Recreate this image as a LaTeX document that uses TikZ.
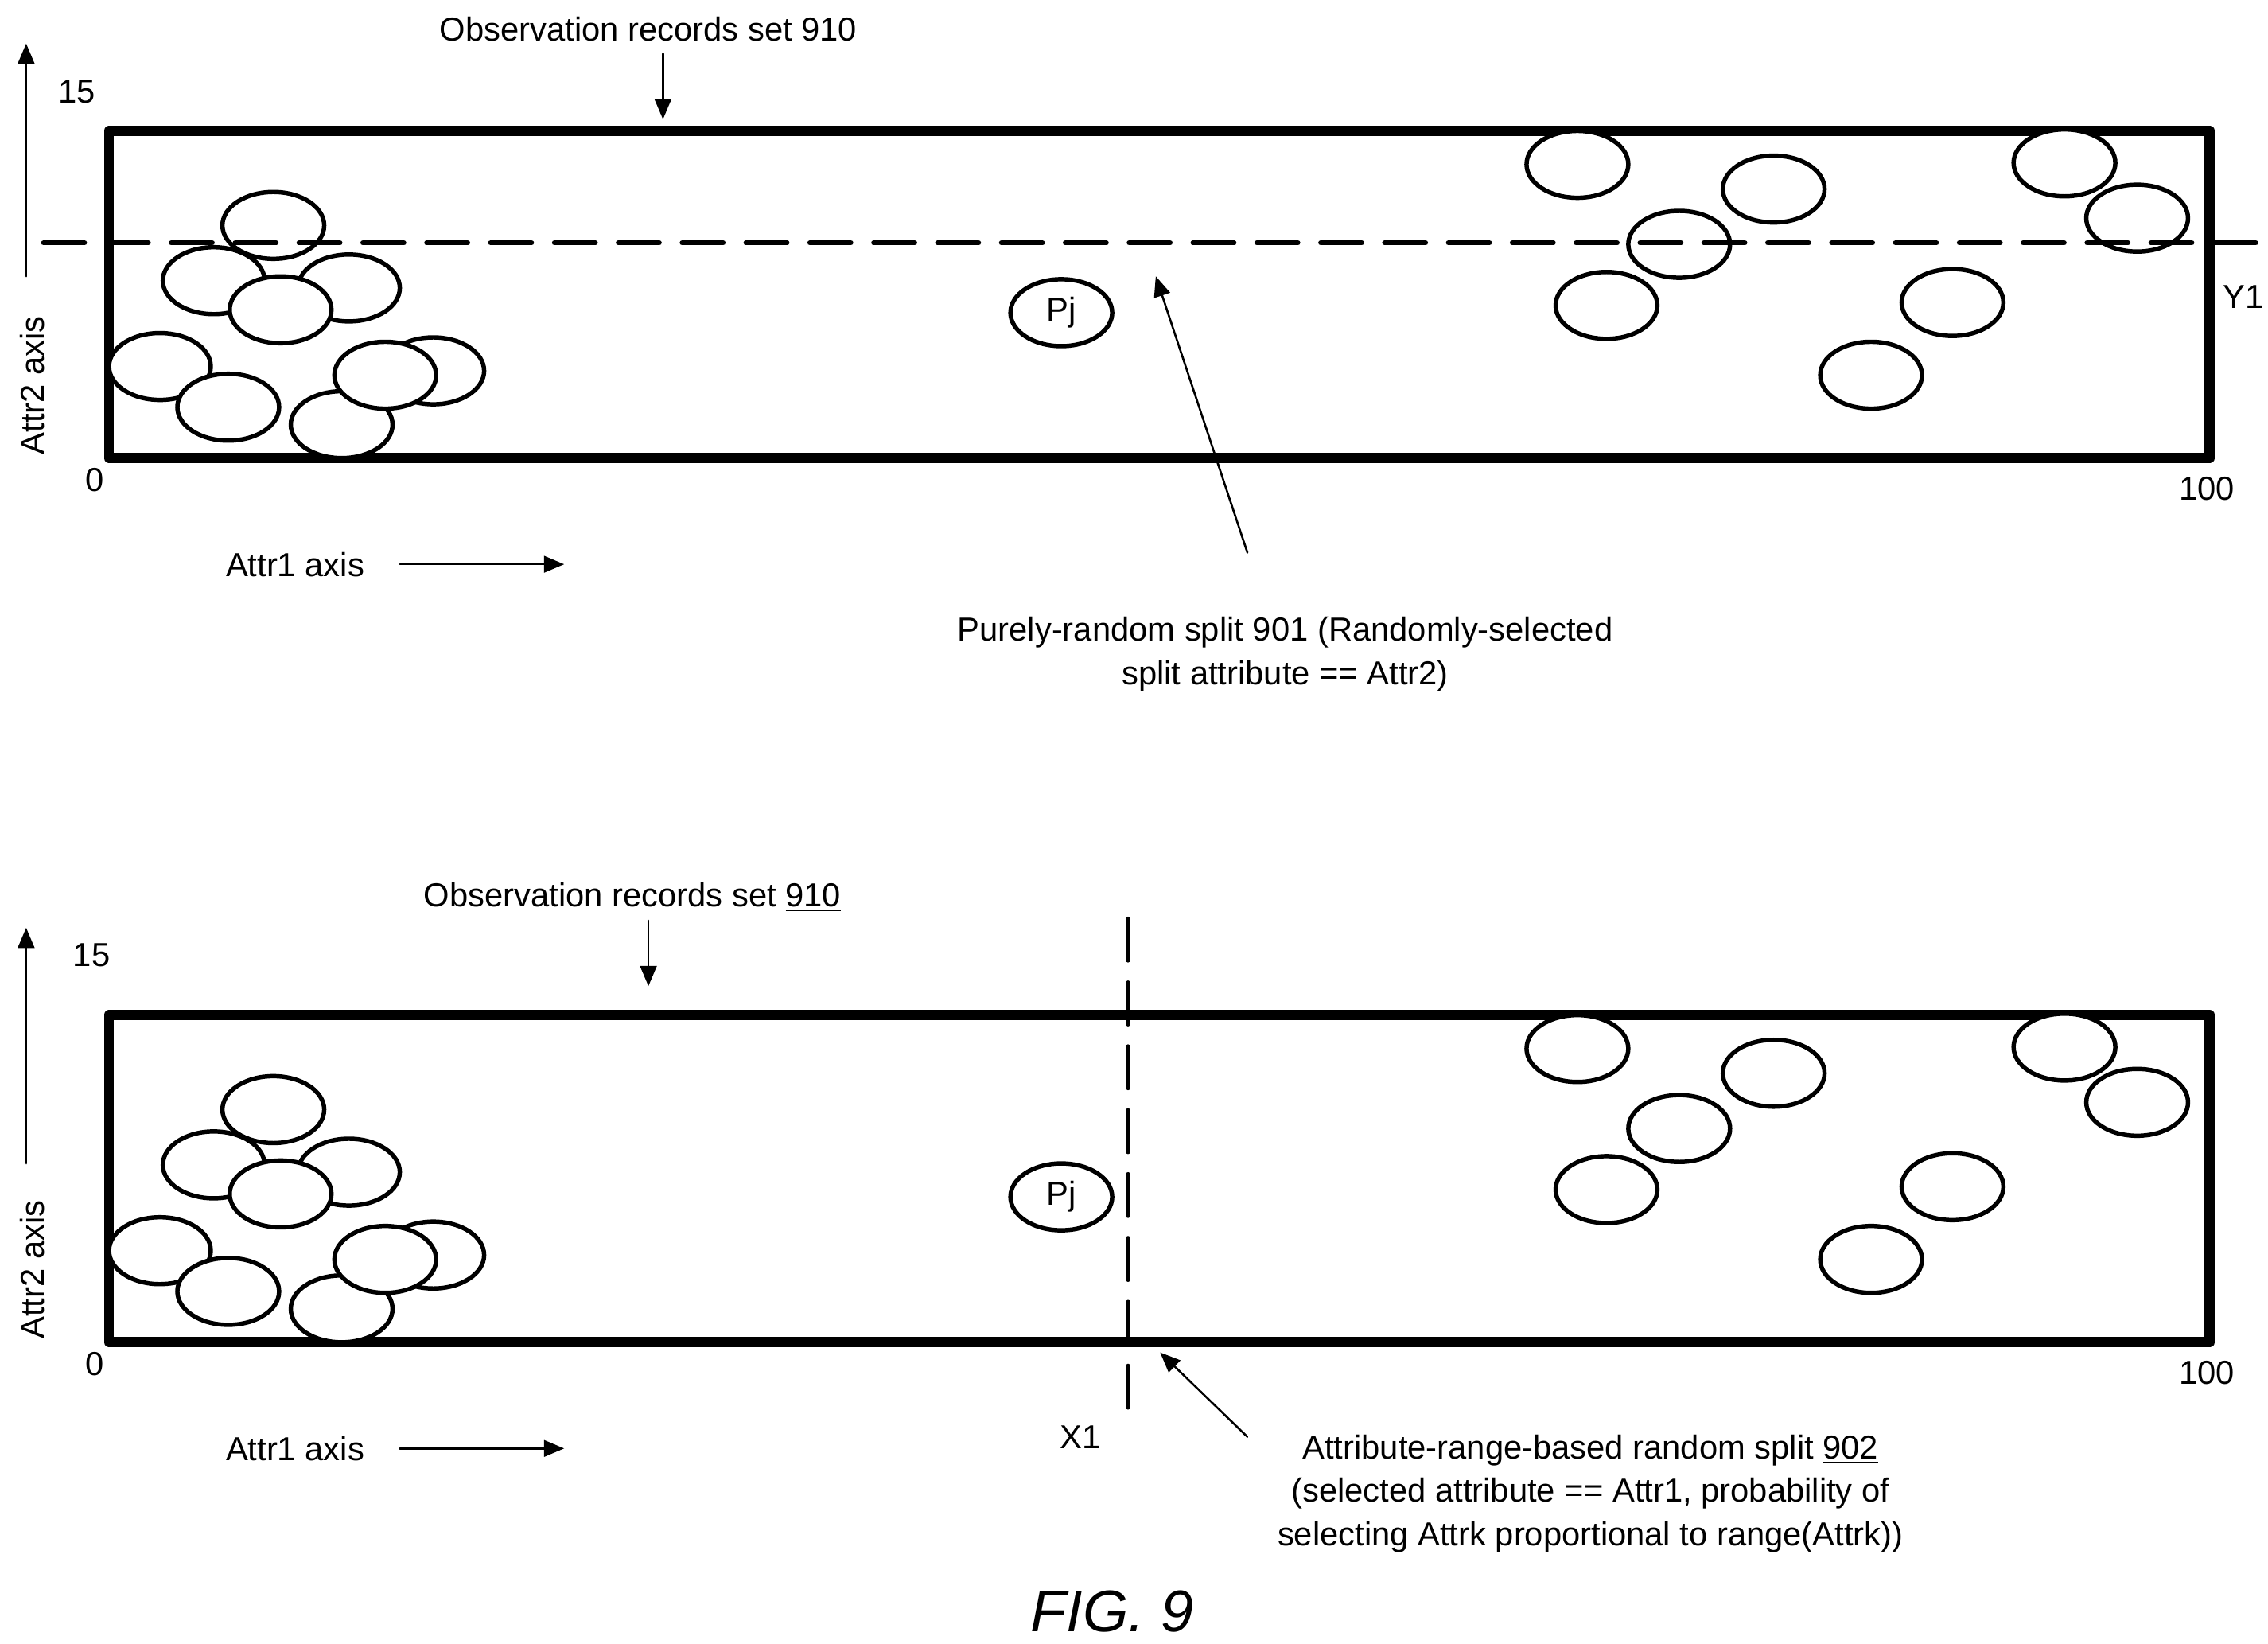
\documentclass[tikz,border=0pt]{standalone}
\usepackage{fontspec}
\setmainfont{Liberation Sans}
\usetikzlibrary{arrows,shapes.geometric}
\begin{document}
\begin{tikzpicture}[line cap=round,line join=round,>=triangle 45,x=0.02cm,y=-0.02cm,
  txt/.style={font=\fontsize{13}{15}\selectfont, inner sep=0pt},
  rec/.style={draw, line width=1.7pt, fill=white, ellipse, minimum width=70*0.02cm, minimum height=46*0.02cm, inner sep=0pt},
  box/.style={line width=4pt},
  split/.style={line width=2pt, dash pattern=on 16pt off 9pt},
  lead/.style={line width=0.8pt}]
\useasboundingbox (0,0) rectangle (1560,1130);
% two panels, the second shifted down
\foreach \dy/\s in {0/a,608/b} {
\begin{scope}[yshift=-\dy*0.02cm]
\draw[box] (75,90) rectangle (1520,315);
\foreach \cx/\cy in {110/252,157/280,235/292,298/255,265/258,147/193,240/198,188/155,193/213,
  1085/113,1220/130,1420/112,1155/168,1470/150,1105/210,1343/208,1287/258}
  \node[rec] at (\cx,\cy) {};
\node[rec, txt] (pj\s) at (730,215) {Pj};
\node[txt] at (65,330) {0};
\node[txt] at (1518,336) {100};
\node[txt, rotate=90] at (22,265) {Attr2 axis};
\node[txt] (a1\s) at (203,388) {Attr1 axis};
\coordinate (a1e\s) at (388,388);
\draw[->, lead] (275,388) -- (a1e\s);
\end{scope}
}
% top panel
\node[txt] at (53,63) {15};
\draw[->, lead] (18,190) -- (18,30);
\node[txt] (t1) at (446,22) {Observation records set \underline{910}};
\coordinate (t1e) at (456,82);
\draw[->, lead] (456,37) -- (t1e);
\draw[split] (30,167) -- (1555,167);
\node[txt] (y1) at (1543,204) {Y1};
\coordinate (s1) at (795,190);
\node[txt, align=center] (d1) at (884,450) {Purely-random split \underline{901} (Randomly-selected\\[2pt]split attribute == Attr2)};
\draw[->, lead] (858,380) -- (s1);
% bottom panel
\node[txt] at (63,657) {15};
\draw[->, lead] (18,800) -- (18,638);
\node[txt] (t2) at (435,617) {Observation records set \underline{910}};
\coordinate (t2e) at (446,678);
\draw[->, lead] (446,633) -- (t2e);
\draw[split] (776,632) -- (776,980);
\node[txt] (x1) at (743,988) {X1};
\coordinate (s2) at (798,930);
\node[txt, align=center] (d2) at (1094,1027) {Attribute-range-based random split \underline{902}\\[2pt](selected attribute == Attr1, probability of\\[2pt]selecting Attrk proportional to range(Attrk))};
\draw[->, lead] (858,988) -- (s2);
\node[font=\fontsize{23}{26}\selectfont\itshape, inner sep=0pt] (fig) at (765,1108) {FIG. 9};
\end{tikzpicture}
\end{document}
